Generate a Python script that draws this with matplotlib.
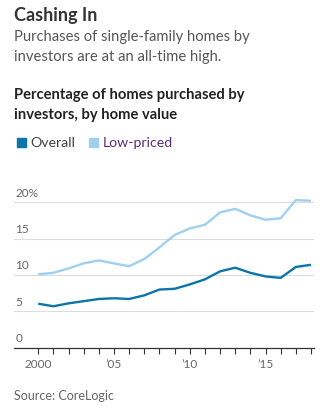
import matplotlib.pyplot as plt
import matplotlib.patches as mpatches
import matplotlib.transforms as mtransforms

plt.rcParams['font.family'] = ['Lato', 'DejaVu Sans']

years = list(range(2000, 2019))
overall = [6.05, 5.7, 6.1, 6.4, 6.7, 6.8, 6.7, 7.2, 8.0, 8.1, 8.7, 9.4, 10.5, 11.0, 10.3, 9.8, 9.6, 11.1, 11.4]
low_priced = [10.1, 10.3, 10.9, 11.6, 12.0, 11.6, 11.2, 12.2, 13.8, 15.5, 16.4, 16.9, 18.6, 19.1, 18.2, 17.6, 17.8, 20.3, 20.2]
y_ticks = [0, 5, 10, 15, 20]
y_labels = ['0', '5', '10', '15', '20%']
x_major = [2000, 2005, 2010, 2015]
x_labels = ['2000', "\u201905", "\u201910", "\u201915"]

dark_blue = '#0b75a8'
light_blue = '#9fd0f0'

W, H = 329, 411
fig = plt.figure(figsize=(W / 100, H / 100), dpi=100)
ax = fig.add_axes([14 / W, 1 - 347.7 / H, 300 / W, (347.7 - 195.0) / H])

ax.plot(years, low_priced, color=light_blue, lw=1.7, solid_capstyle='butt', zorder=3)
ax.plot(years, overall, color=dark_blue, lw=1.7, solid_capstyle='butt', zorder=4)

ax.set_xlim(1998.4, 2018.2)
ax.set_ylim(0, 21)

for s in ['top', 'right', 'left']:
    ax.spines[s].set_visible(False)
ax.spines['bottom'].set_color('#333333')
ax.spines['bottom'].set_linewidth(0.9)

# horizontal grid
for v in y_ticks[1:]:
    ax.axhline(v, color='#dddddd', lw=0.8, zorder=1)
ax.set_yticks([])

# y labels sit above the gridlines, flush left
trans = mtransforms.blended_transform_factory(ax.transAxes, ax.transData)
for v, lab in zip(y_ticks, y_labels):
    ax.text(0.005, v + 0.5, lab, transform=trans, ha='left', va='bottom',
            fontsize=8.5, color='#666666')

ax.set_xticks(x_major)
ax.set_xticklabels(x_labels, fontsize=8.5, color='#666666')
ax.set_xticks(years, minor=True)
ax.tick_params(axis='x', which='both', length=4, width=0.8, color='#333333', pad=4)

# header text
fig.text(14 / W, 1 - 16 / H, 'Cashing In', fontsize=13, fontweight='bold',
         color='#333333', va='center', ha='left')
fig.text(14 / W, 1 - 37 / H, 'Purchases of single-family homes by', fontsize=10.6,
         color='#555555', va='center', ha='left')
fig.text(14 / W, 1 - 57 / H, 'investors are at an all-time high.', fontsize=10.6,
         color='#555555', va='center', ha='left')
fig.text(14 / W, 1 - 95 / H, 'Percentage of homes purchased by', fontsize=10.6,
         fontweight='bold', color='#222222', va='center', ha='left')
fig.text(14 / W, 1 - 115 / H, 'investors, by home value', fontsize=10.6,
         fontweight='bold', color='#222222', va='center', ha='left')

# legend
sq = 9
fig.patches.append(mpatches.Rectangle((16.5 / W, 1 - 147.5 / H), sq / W, sq / H,
                                      transform=fig.transFigure, color=dark_blue))
fig.text(30.5 / W, 1 - 143 / H, 'Overall', fontsize=10.2, color='#444444',
         va='center', ha='left')
fig.patches.append(mpatches.Rectangle((89 / W, 1 - 147.5 / H), sq / W, sq / H,
                                      transform=fig.transFigure, color=light_blue))
fig.text(103 / W, 1 - 143 / H, 'Low-priced', fontsize=10.2, color='#5c2d7a',
         va='center', ha='left')

fig.text(14 / W, 1 - 396 / H, 'Source: CoreLogic', fontsize=9, color='#666666',
         va='center', ha='left')

fig.savefig('out.png', dpi=100)
